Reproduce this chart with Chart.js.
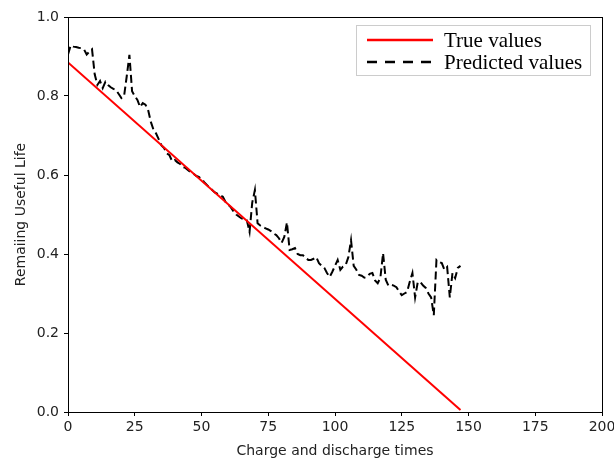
<!DOCTYPE html>
<html>
<head>
<meta charset="utf-8">
<script src="https://cdn.jsdelivr.net/npm/chart.js@4/dist/chart.umd.min.js"></script>
<style>
  html, body { margin: 0; padding: 0; background: #fff; }
  #wrap { width: 614px; height: 458px; }
</style>
</head>
<body>
<div id="wrap"><canvas id="rul-chart" width="614" height="458"></canvas></div>
<script>
// Data

let xTicks = [0, 25, 50, 75, 100, 125, 150, 175, 200];
let yTicks = [0.0, 0.2, 0.4, 0.6, 0.8, 1.0];

// true values: straight line, start and end points
let trueCycles = [0, 147];
let trueValues = [0.885, 0.005];

// predicted values, one per cycle 0..147
let predictedValues = [
    0.905, 0.928, 0.925, 0.924, 0.922, 0.921, 0.918, 0.905, 0.912, 0.918,
    0.855, 0.828, 0.838, 0.820, 0.836, 0.828, 0.822, 0.818, 0.815, 0.805,
    0.795, 0.800, 0.850, 0.904, 0.812, 0.800, 0.790, 0.772, 0.782, 0.778,
    0.765, 0.735, 0.715, 0.705, 0.690, 0.675, 0.668, 0.655, 0.650, 0.635,
    0.638, 0.632, 0.628, 0.620, 0.618, 0.612, 0.607, 0.603, 0.598, 0.595,
    0.590, 0.582, 0.575, 0.568, 0.562, 0.556, 0.552, 0.548, 0.545, 0.532,
    0.525, 0.518, 0.508, 0.500, 0.495, 0.490, 0.488, 0.485, 0.456, 0.530,
    0.562, 0.478, 0.472, 0.468, 0.465, 0.462, 0.458, 0.452, 0.448, 0.440,
    0.428, 0.443, 0.480, 0.410, 0.412, 0.415, 0.400, 0.397, 0.397, 0.390,
    0.385, 0.385, 0.388, 0.392, 0.377, 0.370, 0.365, 0.352, 0.342, 0.355,
    0.370, 0.385, 0.360, 0.368, 0.372, 0.392, 0.435, 0.370, 0.360, 0.347,
    0.345, 0.340, 0.342, 0.350, 0.352, 0.333, 0.326, 0.340, 0.402, 0.335,
    0.320, 0.322, 0.320, 0.316, 0.305, 0.296, 0.300, 0.304, 0.330, 0.352,
    0.290, 0.329, 0.329, 0.320, 0.314, 0.300, 0.290, 0.245, 0.385, 0.380,
    0.377, 0.360, 0.367, 0.290, 0.352, 0.339, 0.365, 0.370
];

let labels = {
    trueLine: "True values",
    predicted: "Predicted values",
    xTitle: "Charge and discharge times",
    yTitle: "Remaiing Useful Life"
};

let colors = {
    red: "rgb(255,0,0)",
    black: "rgb(0,0,0)",
    text: "#222"
};

// Build point lists
let truePoints = trueCycles.map((c, i) => ({x: c, y: trueValues[i]}));
let predictedPoints = predictedValues.map((v, i) => ({x: i, y: v}));

// Frame around plot area (matplotlib style spines)
let framePlugin = {
    id: 'frame',
    afterDraw(chart) {
        let {ctx, chartArea: a} = chart;
        ctx.save();
        ctx.strokeStyle = colors.black;
        ctx.lineWidth = 1;
        ctx.strokeRect(Math.round(a.left) + 0.5, Math.round(a.top) + 0.5,
            Math.round(a.right - a.left), Math.round(a.bottom - a.top));
        ctx.restore();
    }
};

// Legend inside the plot, top right
let legendPlugin = {
    id: 'innerLegend',
    afterDraw(chart) {
        let {ctx, chartArea: a} = chart;
        let boxW = 234, boxH = 50;
        let x0 = a.right - 12 - boxW, y0 = a.top + 8;
        ctx.save();
        ctx.fillStyle = "rgba(255,255,255,0.9)";
        ctx.fillRect(x0, y0, boxW, boxH);
        ctx.strokeStyle = "#ccc";
        ctx.lineWidth = 1;
        ctx.strokeRect(x0 + 0.5, y0 + 0.5, boxW, boxH);

        ctx.font = '21px "Liberation Serif", "Times New Roman", serif';
        ctx.textBaseline = 'middle';
        ctx.fillStyle = colors.black;
        chart.data.datasets.forEach((ds, i) => {
            let y = y0 + 15 + i * 22;
            ctx.beginPath();
            ctx.strokeStyle = ds.borderColor;
            ctx.lineWidth = 2.5;
            // legend sample uses a longer dash than the plotted line
            ctx.setLineDash(ds.borderDash ? [10, 8] : []);
            ctx.moveTo(x0 + 11, y);
            ctx.lineTo(x0 + 77, y);
            ctx.stroke();
            ctx.setLineDash([]);
            ctx.fillText(ds.label, x0 + 88, y + 1);
        });
        ctx.restore();
    }
};

let tickFont = {family: '"DejaVu Sans", sans-serif', size: 14};

let chartDom = document.getElementById('rul-chart').getContext('2d');
let chartJS = new Chart(chartDom, {
    type: 'line',
    data: {
        datasets: [
            {
                label: labels.trueLine,
                data: truePoints,
                borderColor: colors.red,
                borderWidth: 2,
                pointRadius: 0,
                fill: false,
                tension: 0
            },
            {
                label: labels.predicted,
                data: predictedPoints,
                borderColor: colors.black,
                borderWidth: 2,
                borderDash: [8, 4],
                pointRadius: 0,
                fill: false,
                tension: 0
            }
        ]
    },
    options: {
        responsive: false,
        animation: false,
        layout: {padding: {top: 17, right: 12, left: 0, bottom: 0}},
        plugins: {
            legend: {display: false},
            tooltip: {enabled: false}
        },
        scales: {
            x: {
                type: 'linear',
                min: 0,
                max: 200,
                afterBuildTicks: (s) => { s.ticks = xTicks.map(v => ({value: v})); },
                afterFit: (s) => {
                    s.height = 46;
                    // let the "200" label run past the edge, like the original
                    s.paddingLeft = 0;
                    s.paddingRight = 0;
                },
                grid: {drawOnChartArea: false, drawTicks: true, tickLength: 4, color: colors.black},
                border: {display: false},
                ticks: {font: tickFont, color: colors.text, padding: 3, maxRotation: 0},
                title: {display: true, text: labels.xTitle, font: tickFont, color: colors.text, padding: {top: 0, bottom: -2}}
            },
            y: {
                min: 0,
                max: 1,
                afterBuildTicks: (s) => { s.ticks = yTicks.map(v => ({value: v})); },
                afterFit: (s) => { s.width = 68; s.paddingTop = 0; s.paddingBottom = 0; },
                grid: {drawOnChartArea: false, drawTicks: true, tickLength: 4, color: colors.black},
                border: {display: false},
                ticks: {font: tickFont, color: colors.text, padding: 5, callback: (v) => v.toFixed(1)},
                title: {display: true, text: labels.yTitle, font: tickFont, color: colors.text, padding: {top: 13, bottom: 0}}
            }
        }
    },
    plugins: [framePlugin, legendPlugin]
});
</script>
</body>
</html>
